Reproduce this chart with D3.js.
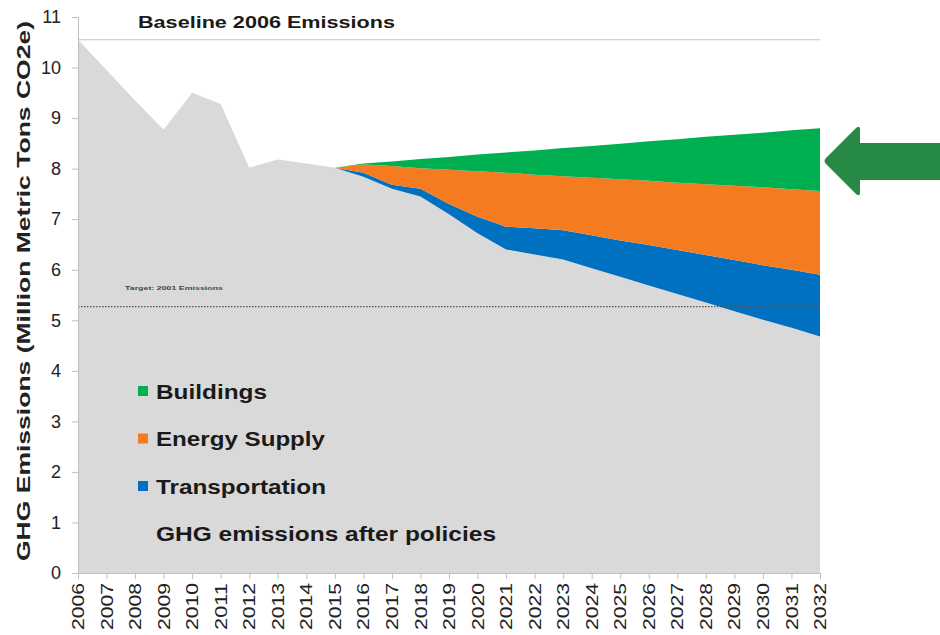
<!DOCTYPE html>
<html>
<head>
<script src="https://cdn.jsdelivr.net/npm/d3@7"></script>
<style>
  body { margin: 0; background: #fff; }
  text { font-family: "Liberation Sans", Arial, sans-serif; }
</style>
</head>
<body>
<div id="vis"></div>
<script>
const years = d3.range(2006, 2033);
// GHG emissions after policies (the grey base)
const afterPolicies = [10.55, 9.95, 9.35, 8.77, 9.5, 9.28, 8.02, 8.18, 8.1, 8.02,
  7.84, 7.6, 7.45, 7.1, 6.72, 6.4, 6.3, 6.2, 6.03, 5.86, 5.69, 5.52, 5.35, 5.18, 5.01, 4.85, 4.68];
const transportation = [0, 0, 0, 0, 0, 0, 0, 0, 0, 0,
  0.08, 0.08, 0.15, 0.2, 0.33, 0.45, 0.52, 0.58, 0.65, 0.72, 0.8, 0.87, 0.94, 1.01, 1.08, 1.15, 1.22];
const energySupply = [0, 0, 0, 0, 0, 0, 0, 0, 0, 0,
  0.16, 0.37, 0.41, 0.68, 0.9, 1.07, 1.06, 1.07, 1.14, 1.21, 1.27, 1.33, 1.4, 1.47, 1.54, 1.59, 1.66];
const buildings = [0, 0, 0, 0, 0, 0, 0, 0, 0, 0,
  0.02, 0.09, 0.18, 0.25, 0.33, 0.4, 0.48, 0.56, 0.63, 0.7, 0.78, 0.86, 0.94, 1.01, 1.08, 1.17, 1.24];
const baseline2006 = 10.55;
const target2001 = 5.27;
const yTicks = d3.range(0, 12);

const keys = ["after", "transportation", "energy", "buildings"];
const colors = {after: "#d9d9d9", transportation: "#0070c0", energy: "#f47b20", buildings: "#00b050"};
const legendItems = [
  {key: "buildings", label: "Buildings", len: 111},
  {key: "energy", label: "Energy Supply", len: 169},
  {key: "transportation", label: "Transportation", len: 170},
  {key: null, label: "GHG emissions after policies", len: 340}
];

const rows = years.map((y, i) => ({
  year: y, after: afterPolicies[i], transportation: transportation[i],
  energy: energySupply[i], buildings: buildings[i]
}));

const w = 940, h = 635;
const svg = d3.select("#vis").append("svg").attr("width", w).attr("height", h);

const x = d3.scalePoint().domain(years).range([78, 820]);
const y = d3.scaleLinear().domain([0, 11]).range([573, 17]);

const series = d3.stack().keys(keys)(rows);
const area = d3.area()
  .x(d => x(d.data.year))
  .y0(d => y(d[0]))
  .y1(d => y(d[1]));

svg.append("g").selectAll("path")
  .data(series)
  .join("path")
  .attr("fill", d => colors[d.key])
  .attr("d", area);

// baseline and target lines
svg.append("line")
  .attr("x1", x(2006)).attr("x2", x(2032))
  .attr("y1", y(baseline2006)).attr("y2", y(baseline2006))
  .attr("stroke", "#c4c4c4").attr("stroke-width", 1);
svg.append("text")
  .attr("x", 138).attr("y", 28)
  .attr("font-size", 17).attr("font-weight", "bold").attr("fill", "#1a1a1a")
  .attr("textLength", 257).attr("lengthAdjust", "spacingAndGlyphs")
  .text("Baseline 2006 Emissions");

svg.append("line")
  .attr("x1", x(2006)).attr("x2", x(2032))
  .attr("y1", y(target2001)).attr("y2", y(target2001))
  .attr("stroke", "#555").attr("stroke-width", 1.3)
  .attr("stroke-dasharray", "1.5,1.5");
svg.append("text")
  .attr("x", 125).attr("y", 290)
  .attr("font-size", 6).attr("font-weight", "bold").attr("fill", "#444")
  .attr("textLength", 98).attr("lengthAdjust", "spacingAndGlyphs")
  .text("Target: 2001 Emissions");

// axes
const yAxis = svg.append("g")
  .attr("transform", "translate(78,0)")
  .call(d3.axisLeft(y).tickValues(yTicks).tickSize(6).tickPadding(11));
yAxis.select(".domain").attr("stroke", "#bfbfbf");
yAxis.selectAll(".tick line").attr("stroke", "#bfbfbf");
yAxis.selectAll("text").attr("font-size", 18).attr("fill", "#222")
  .style("font-family", "Liberation Sans, Arial, sans-serif");

const xAxis = svg.append("g")
  .attr("transform", "translate(0,573)")
  .call(d3.axisBottom(x).tickSize(6).tickSizeOuter(0));
xAxis.select(".domain").attr("stroke", "#bfbfbf");
xAxis.selectAll(".tick line").attr("stroke", "#bfbfbf");
xAxis.selectAll("text")
  .attr("font-size", 16).attr("fill", "#222")
  .style("font-family", "Liberation Sans, Arial, sans-serif")
  .attr("text-anchor", "end")
  .attr("transform", "rotate(-90)")
  .attr("x", -10).attr("y", 0).attr("dy", "0.35em")
  .attr("textLength", 47).attr("lengthAdjust", "spacingAndGlyphs");

svg.append("text")
  .attr("transform", "translate(30,291) rotate(-90)")
  .attr("text-anchor", "middle")
  .attr("font-size", 19).attr("font-weight", "bold").attr("fill", "#222")
  .attr("textLength", 540).attr("lengthAdjust", "spacingAndGlyphs")
  .text("GHG Emissions (Million Metric Tons CO2e)");

// legend
const lg = svg.append("g").selectAll("g")
  .data(legendItems)
  .join("g")
  .attr("transform", (d, i) => `translate(138,${391 + i * 47.5})`);
lg.filter(d => d.key)
  .append("rect")
  .attr("x", 0).attr("y", -5).attr("width", 10).attr("height", 10)
  .attr("fill", d => colors[d.key]);
lg.append("text")
  .attr("x", 18).attr("y", 7.5)
  .attr("font-size", 21).attr("font-weight", "bold").attr("fill", "#1a1a1a")
  .attr("textLength", d => d.len).attr("lengthAdjust", "spacingAndGlyphs")
  .text(d => d.label);

// arrow pointing at the chart
svg.append("path")
  .attr("d", "M940,143 L860,143 L860,130 Q860,124 855,129 L826,158 Q823,161 826,164 L855,193 Q860,198 860,192 L860,180 L940,180 Z")
  .attr("fill", "#268a45");
</script>
</body>
</html>
